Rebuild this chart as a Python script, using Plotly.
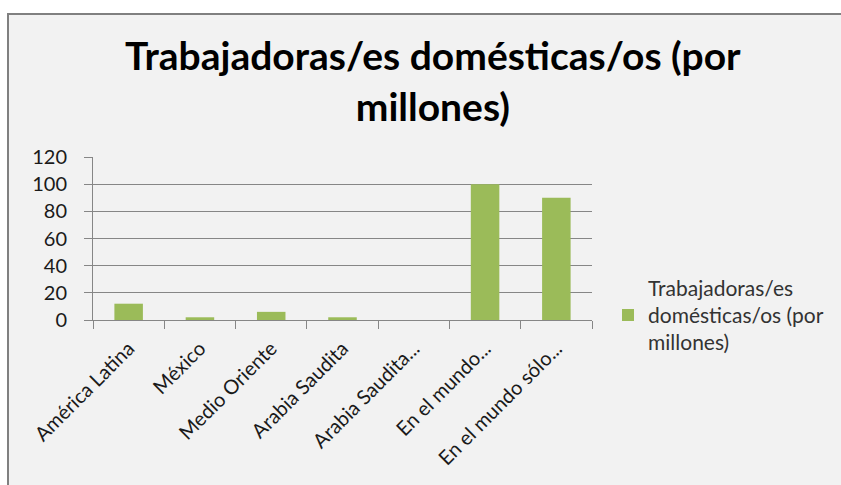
import plotly.graph_objects as go

categories = ["América Latina", "México", "Medio Oriente", "Arabia Saudita",
              "Arabia Saudita...", "En el mundo...", "En el mundo sólo..."]
values = [12, 2, 6, 2, 0, 100, 90]
series_name = "Trabajadoras/es<br>domésticas/os (por<br>millones)"
title_text = "Trabajadoras/es domésticas/os (por<br>millones)"
y_ticks = [0, 20, 40, 60, 80, 100, 120]

W, H = 841, 485
L, R, T, B = 93, 592, 157, 320
pw, ph = R - L, B - T


def px(x):
    return (x - L) / pw


def py(y):
    return (B - y) / ph


fig = go.Figure()
fig.add_trace(go.Bar(
    x=categories, y=values, name=series_name,
    marker=dict(color="#9bbb59", line=dict(width=0)),
    showlegend=True,
))

font = "Lato, 'Open Sans', sans-serif"

fig.update_layout(
    width=W, height=H,
    margin=dict(l=L, r=W - R, t=T, b=H - B, pad=0),
    paper_bgcolor="white",
    plot_bgcolor="#f2f2f2",
    bargap=0.6,
    showlegend=True,
    legend=dict(
        x=px(608), xanchor="left",
        y=py(315), yanchor="middle",
        bgcolor="rgba(0,0,0,0)",
        font=dict(family=font, size=21, color="#333333"),
        itemsizing="constant",
    ),
    xaxis=dict(
        type="category",
        tickson="boundaries",
        ticks="outside", ticklen=8, tickcolor="#868686", tickwidth=1,
        showline=True, linecolor="#868686", linewidth=1,
        showgrid=False,
        tickangle=-45,
        tickfont=dict(family=font, size=20, color="#1a1a1a"),
        ticklabelstandoff=8,
        range=[-0.5, 6.5],
    ),
    yaxis=dict(
        range=[0, 120],
        tickvals=y_ticks,
        ticks="outside", ticklen=8, tickcolor="#868686", tickwidth=1,
        showline=True, linecolor="#868686", linewidth=1,
        showgrid=True, gridcolor="#868686", gridwidth=1,
        zeroline=False,
        tickfont=dict(family=font, size=20, color="#1a1a1a"),
        ticklabelstandoff=13,
    ),
    annotations=[
        dict(text="<b>" + title_text + "</b>", xref="paper", yref="paper",
             x=px(433), xanchor="center", y=py(30), yanchor="top",
             showarrow=False, align="center",
             font=dict(family=font, size=39, color="#000000")),
    ],
    shapes=[
        dict(type="rect", xref="paper", yref="paper", layer="below",
             x0=px(7), x1=px(W + 5), y0=py(13), y1=py(H + 5),
             fillcolor="#f2f2f2", line=dict(width=0)),
        dict(type="line", xref="paper", yref="paper", layer="above",
             x0=px(7), x1=px(W + 5), y0=py(14), y1=py(14),
             line=dict(color="#808080", width=2)),
        dict(type="line", xref="paper", yref="paper", layer="above",
             x0=px(8), x1=px(8), y0=py(13), y1=py(H + 5),
             line=dict(color="#808080", width=2)),
    ],
)

fig.write_html("out.html", config={"displayModeBar": False},
               post_script="document.body.style.margin='0';")
